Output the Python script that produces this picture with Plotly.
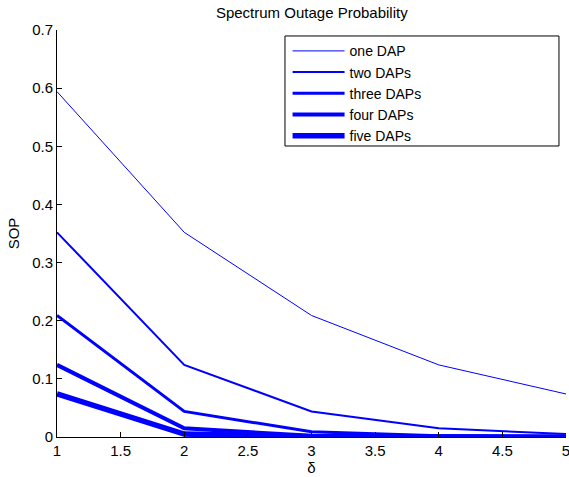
import plotly.graph_objects as go

# delta values on the x axis
DELTA = [1, 2, 3, 4, 5]

# spectrum outage probability
SOP_ONE = [0.594, 0.352, 0.209, 0.124, 0.074]
SOP_TWO = [0.352, 0.124, 0.044, 0.015, 0.005]
SOP_THREE = [0.209, 0.044, 0.009, 0.002, 0.0004]
SOP_FOUR = [0.124, 0.015, 0.002, 0.0002, 0.0]
SOP_FIVE = [0.074, 0.005, 0.0004, 0.0, 0.0]

SERIES_NAMES = ["one DAP", "two DAPs", "three DAPs", "four DAPs", "five DAPs"]
SERIES = [SOP_ONE, SOP_TWO, SOP_THREE, SOP_FOUR, SOP_FIVE]
LINE_WIDTHS = [1, 2, 3, 4, 5.5]

X_TICKS = [1, 1.5, 2, 2.5, 3, 3.5, 4, 4.5, 5]
X_TICK_TEXT = ["1", "1.5", "2", "2.5", "3", "3.5", "4", "4.5", "5"]
Y_TICKS = [0, 0.1, 0.2, 0.3, 0.4, 0.5, 0.6, 0.7]
Y_TICK_TEXT = ["0", "0.1", "0.2", "0.3", "0.4", "0.5", "0.6", "0.7"]

FONT = "Liberation Sans, Arial, Helvetica, sans-serif"
BLUE = "#0000FF"

fig = go.Figure()
for name, values, width in zip(SERIES_NAMES, SERIES, LINE_WIDTHS):
    fig.add_trace(
        go.Scatter(
            x=DELTA,
            y=values,
            mode="lines",
            name=name,
            line=dict(color=BLUE, width=width),
        )
    )

axis_common = dict(
    showgrid=False,
    zeroline=False,
    showline=True,
    linecolor="black",
    linewidth=1,
    ticks="inside",
    ticklen=5,
    tickcolor="black",
    automargin=False,
    ticklabeloverflow="allow",
    tickfont=dict(family=FONT, size=15, color="black"),
)

fig.update_layout(
    width=569,
    height=477,
    paper_bgcolor="white",
    plot_bgcolor="white",
    margin=dict(l=57, r=3, t=30, b=40, autoexpand=False),
    font=dict(family=FONT, size=15, color="black"),
    title=dict(
        text="Spectrum Outage Probability",
        x=0.548,
        xanchor="center",
        y=0.973,
        yanchor="middle",
        font=dict(family=FONT, size=15, color="black"),
    ),
    xaxis=dict(
        range=[1, 5],
        tickvals=X_TICKS,
        ticktext=X_TICK_TEXT,
        title=dict(text="δ", standoff=3, font=dict(family=FONT, size=15)),
        **axis_common,
    ),
    yaxis=dict(
        range=[0, 0.7],
        tickvals=Y_TICKS,
        ticktext=Y_TICK_TEXT,
        title=dict(text="SOP", standoff=8, font=dict(family=FONT, size=15)),
        **axis_common,
    ),
    legend=dict(
        x=0.453,
        y=0.987,
        xanchor="left",
        yanchor="top",
        bgcolor="rgba(0,0,0,0)",
        borderwidth=0,
        font=dict(family=FONT, size=14, color="black"),
        itemwidth=52,
        tracegroupgap=0,
    ),
    # legend frame, drawn as a box in paper space
    shapes=[
        dict(
            type="rect",
            xref="paper",
            yref="paper",
            x0=0.4479,
            x1=0.9862,
            y0=0.715,
            y1=0.9853,
            line=dict(color="black", width=1),
            fillcolor="white",
            layer="below",
        )
    ],
)

# drop the browser's default 8px body margin so the figure sits at the corner
fig.write_html(
    "out.html",
    config={"displayModeBar": False},
    post_script="document.body.style.margin='0';",
)
